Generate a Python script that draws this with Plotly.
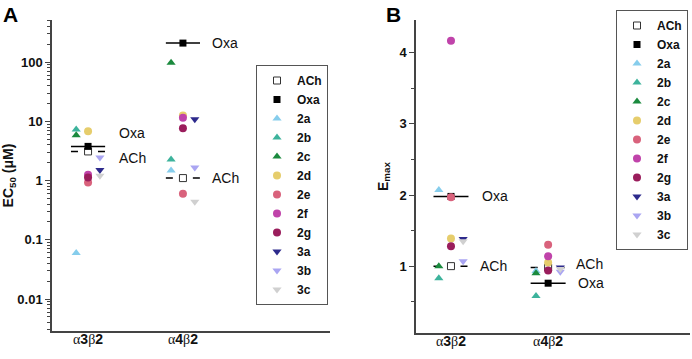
import math
import plotly.graph_objects as go

# ---------------- data ----------------
categories = ["α3β2", "α4β2"]
compounds = ["2a", "2b", "2c", "2d", "2e", "2f", "2g", "3a", "3b", "3c"]

ec50_a3b2 = [0.06, 7.3, 5.8, 6.8, 0.93, 1.25, 1.12, 1.5, 2.45, 1.2]
ec50_a4b2 = [1.48, 2.27, 97, 12.5, 0.6, 11.5, 7.6, 10.8, 1.66, 0.44]
ec50_ach = [3.1, 1.1]
ec50_oxa = [3.77, 209]

emax_a3b2 = [2.07, 0.83, 1.0, 1.39, 1.97, 4.17, 1.28, 1.38, 1.07, 1.35]
emax_a4b2 = [0.93, 0.58, 0.9, 1.05, 1.3, 1.14, 0.94, 0.98, 0.92, 0.96]
emax_ach = [1.0, 0.98]
emax_oxa = [1.98, 0.76]

# ---------------- styles ----------------
colors = {"2a": "#86cdec", "2b": "#3db39c", "2c": "#1b8a3e", "2d": "#e6cd6c",
          "2e": "#d9627c", "2f": "#c043aa", "2g": "#9a1d5c", "3a": "#2d2a8c",
          "3b": "#aaa5f2", "3c": "#d0d0d0"}
symbols = {"2a": "triangle-up", "2b": "triangle-up", "2c": "triangle-up",
           "2d": "circle", "2e": "circle", "2f": "circle", "2g": "circle",
           "3a": "triangle-down", "3b": "triangle-down", "3c": "triangle-down"}
offsets = {"triangle-up": -0.125, "circle": 0.0, "triangle-down": 0.125}
cat_x = [1, 2]
half = 0.18

fig = go.Figure()

def add_panel(xa, ya, legend, vals_by_cat, ach, oxa):
    for i, cx in enumerate(cat_x):
        fig.add_trace(go.Scatter(x=[cx - half, cx + half], y=[oxa[i], oxa[i]], mode="lines",
                                 line=dict(color="black", width=1.5), showlegend=False,
                                 xaxis=xa, yaxis=ya, hoverinfo="skip"))
        fig.add_trace(go.Scatter(x=[cx - half, cx + half], y=[ach[i], ach[i]], mode="lines",
                                 line=dict(color="black", width=1.5, dash="7px,20px"),
                                 showlegend=False, xaxis=xa, yaxis=ya, hoverinfo="skip"))
    fig.add_trace(go.Scatter(x=cat_x, y=ach, mode="markers", name="ACh",
                             marker=dict(symbol="square-open", size=7, color="#333",
                                         line=dict(width=1, color="#333")),
                             xaxis=xa, yaxis=ya, legend=legend))
    fig.add_trace(go.Scatter(x=cat_x, y=oxa, mode="markers", name="Oxa",
                             marker=dict(symbol="square", size=7, color="black"),
                             xaxis=xa, yaxis=ya, legend=legend))
    for j, c in enumerate(compounds):
        sym = symbols[c]
        xs = [cx + offsets[sym] for cx in cat_x]
        ys = [vals_by_cat[0][j], vals_by_cat[1][j]]
        fig.add_trace(go.Scatter(x=xs, y=ys, mode="markers", name=c,
                                 marker=dict(symbol=sym, size=8, color=colors[c]),
                                 xaxis=xa, yaxis=ya, legend=legend))

add_panel("x", "y", "legend", [ec50_a3b2, ec50_a4b2], ec50_ach, ec50_oxa)
add_panel("x2", "y2", "legend2", [emax_a3b2, emax_a4b2], emax_ach, emax_oxa)

def cat_label(s):
    out = ""
    for ch in s:
        if ch in "αβ":
            out += '<span style="font-family:Liberation Serif;font-weight:normal">' + ch + "</span>"
        else:
            out += "<b>" + ch + "</b>"
    return out

ticktext = [cat_label(c) for c in categories]
axcol = "#444"

xcommon = dict(tickmode="array", tickvals=cat_x, ticktext=ticktext, ticks="",
               ticklabelstandoff=-6, showline=True, linecolor=axcol,
               linewidth=1.5, showgrid=False, zeroline=False,
               tickfont=dict(family="Liberation Sans", size=14, color="#111"))
ycommon = dict(showline=True, linecolor=axcol, linewidth=1.5, ticks="outside",
               ticklen=5, tickcolor=axcol, showgrid=False, zeroline=False,
               tickfont=dict(family="Liberation Sans", size=13, color="#111", weight="bold"))
legcommon = dict(yanchor="top", xanchor="left", bordercolor="#555", borderwidth=1,
                 bgcolor="white", itemwidth=30, tracegroupgap=0,
                 font=dict(family="Liberation Sans", size=12, color="#111", weight="bold"))

fig.update_layout(
    width=692, height=359, margin=dict(l=0, r=0, t=0, b=0),
    plot_bgcolor="white", paper_bgcolor="white",
    font=dict(family="Liberation Sans", color="#111"),
    xaxis=dict(domain=[52 / 692, 330 / 692], range=[0.62, 3.55], anchor="y", **xcommon),
    xaxis2=dict(domain=[416 / 692, 690 / 692], range=[0.64, 3.46], anchor="y2", **xcommon),
    yaxis=dict(domain=[1 - 331 / 359, 1 - 20 / 359], type="log", range=[-2.54, 2.71],
               dtick=1, anchor="x",
               minor=dict(ticks="outside", ticklen=3, tickcolor=axcol, dtick="D1", showgrid=False),
               title=dict(text="<b>EC<sub>50</sub> (μM)</b>", font=dict(size=14), standoff=6),
               **ycommon),
    yaxis2=dict(domain=[1 - 333 / 359, 1 - 20 / 359], range=[0.06, 4.46], anchor="x2",
                tickvals=[1, 2, 3, 4],
                minor=dict(ticks="outside", ticklen=3, tickcolor=axcol, dtick=0.5, showgrid=False),
                title=dict(text="<b>E<sub>max</sub></b>", font=dict(size=14), standoff=8),
                **ycommon),
    legend=dict(x=256 / 692, y=1 - 65 / 359, **legcommon),
    legend2=dict(x=616 / 692, y=1 - 10 / 359, **legcommon),
)

ann_font = dict(family="Liberation Sans", size=14, color="#111")
anns = [
    dict(xref="x", yref="y", x=1.3, y=math.log10(ec50_oxa[0]), text="Oxa", yshift=13),
    dict(xref="x", yref="y", x=1.3, y=math.log10(ec50_ach[0]), text="ACh", yshift=-7),
    dict(xref="x", yref="y", x=2.28, y=math.log10(ec50_oxa[1]), text="Oxa", yshift=0),
    dict(xref="x", yref="y", x=2.28, y=math.log10(ec50_ach[1]), text="ACh", yshift=0),
    dict(xref="x2", yref="y2", x=1.3, y=emax_oxa[0], text="Oxa", yshift=0),
    dict(xref="x2", yref="y2", x=1.28, y=emax_ach[0], text="ACh", yshift=0),
    dict(xref="x2", yref="y2", x=2.27, y=emax_ach[1], text="ACh", yshift=4),
    dict(xref="x2", yref="y2", x=2.29, y=emax_oxa[1], text="Oxa", yshift=0),
]
for a in anns:
    fig.add_annotation(showarrow=False, xanchor="left", yanchor="middle", font=ann_font, **a)

for lbl, px in (("A", 1), ("B", 384)):
    fig.add_annotation(xref="paper", yref="paper", x=px / 692, y=1 - 1 / 359, xanchor="left",
                       yanchor="top", text="<b>" + lbl + "</b>", showarrow=False,
                       font=dict(family="Liberation Sans", size=21, color="black"))

fig.write_html("out.html", config={"displayModeBar": False},
               post_script="document.body.style.margin='0';")
